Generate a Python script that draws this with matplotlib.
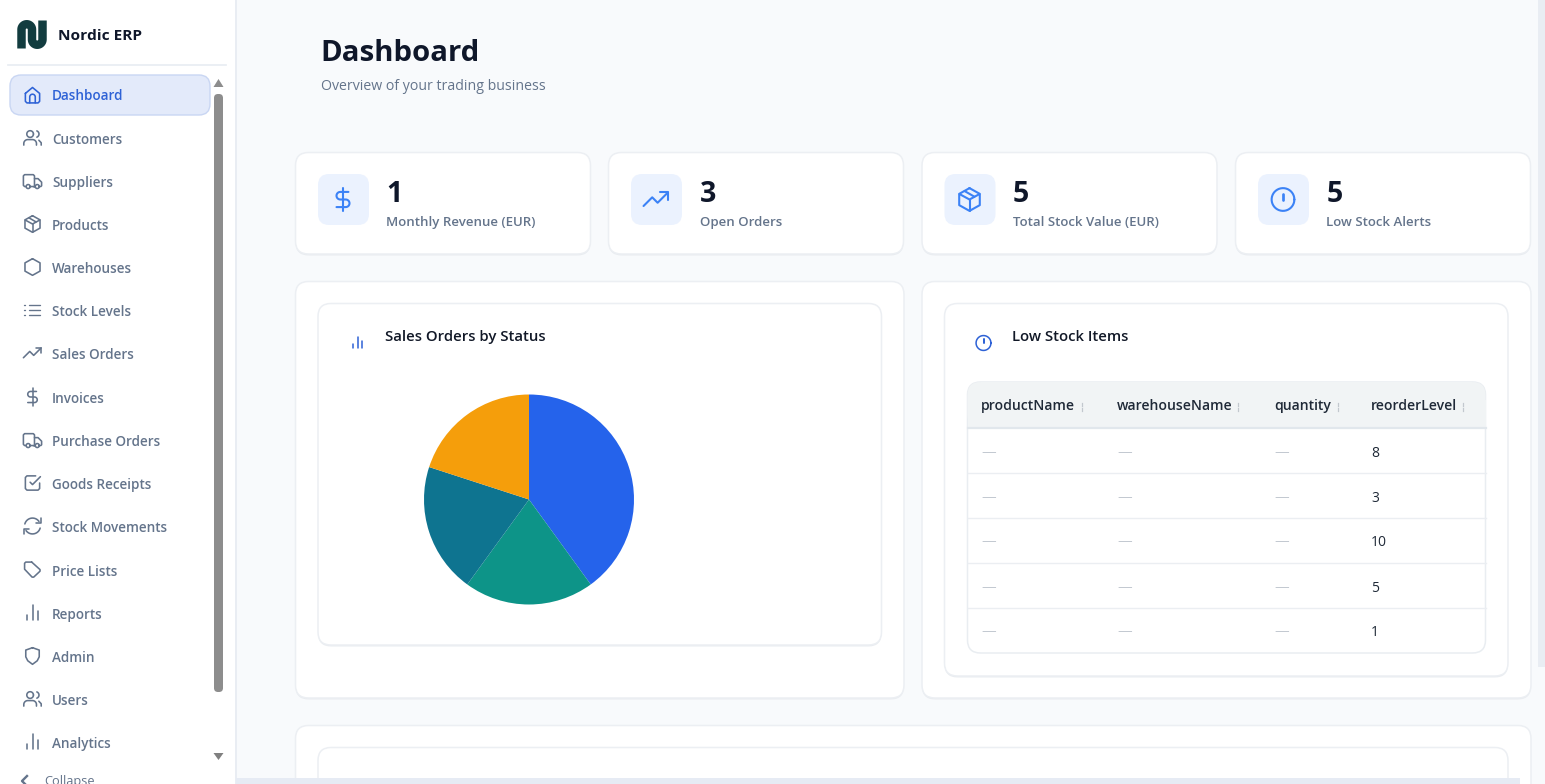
import numpy as np
import matplotlib
matplotlib.use("Agg")
import matplotlib.pyplot as plt
from matplotlib.patches import FancyBboxPatch, Rectangle, Polygon

plt.rcParams['font.family'] = ['Open Sans', 'DejaVu Sans']

# ---- data ----
nav_items = ["Dashboard", "Customers", "Suppliers", "Products", "Warehouses", "Stock Levels",
             "Sales Orders", "Invoices", "Purchase Orders", "Goods Receipts", "Stock Movements",
             "Price Lists", "Reports", "Admin", "Users", "Analytics"]
nav_y = [95, 139, 182, 225, 268, 311, 354, 398, 441, 484, 527, 571, 614, 657, 700, 743]
nav_icons = ["home", "users", "truck", "box", "hex", "list", "trend", "dollar", "truck", "check",
             "refresh", "tag", "bars", "shield", "users", "bars"]
kpi_values = ["1", "3", "5", "5"]
kpi_labels = ["Monthly Revenue (EUR)", "Open Orders", "Total Stock Value (EUR)", "Low Stock Alerts"]
kpi_icons = ["dollar", "trend", "box", "alert"]
kpi_x = [295, 608, 921.5, 1235]
status_values = [2, 1, 1, 1]
status_colors = ["#2563eb", "#0d9488", "#0e7490", "#f59e0b"]
table_columns = ["productName", "warehouseName", "quantity", "reorderLevel"]
column_x = [981, 1117, 1274, 1371]
sort_x = [1082, 1238, 1338, 1463]
reorder_levels = [8, 3, 10, 5, 1]
row_y = [452, 497, 542, 587, 632]

W, H = 1545, 784
fig = plt.figure(figsize=(W / 100, H / 100), dpi=100, facecolor="#f8fafc")
ax = fig.add_axes([0, 0, 1, 1])
ax.set_xlim(0, W)
ax.set_ylim(H, 0)
ax.axis("off")


def label(x, y, s, size, weight="normal", color="#0f172a", z=5):
    ax.text(x, y + 1, s, fontsize=size, fontweight=weight, color=color, va="center", zorder=z)


def card(x0, y0, x1, y1, r=12, fc="white", ec="#eceff3", lw=1.1, z=1, shadow=True):
    if shadow:
        ax.add_patch(FancyBboxPatch((x0, y0 + 1.5), x1 - x0, y1 - y0, boxstyle=f"round,pad=0,rounding_size={r}",
                                    fc="#e9ecf0", ec="none", zorder=z))
    ax.add_patch(FancyBboxPatch((x0, y0), x1 - x0, y1 - y0, boxstyle=f"round,pad=0,rounding_size={r}",
                                fc=fc, ec=ec, lw=lw, zorder=z))


def icon(name, cx, cy, s, color, lw=1.3, z=6):
    k = s / 24.0

    def P(pts, close=False, w=None):
        a = np.array(pts, float)
        if close:
            a = np.vstack([a, a[0]])
        ax.plot(cx + (a[:, 0] - 12) * k, cy + (a[:, 1] - 12) * k, color=color, lw=w or lw, zorder=z,
                solid_capstyle="round", solid_joinstyle="round")

    def A(x, y, r, t0=0, t1=360):
        t = np.radians(np.linspace(t0, t1, 40))
        P(np.c_[x + r * np.cos(t), y + r * np.sin(t)])

    def arc(x, y, r, t0, t1):
        t = np.radians(np.linspace(t0, t1, 16))
        return list(zip(x + r * np.cos(t), y + r * np.sin(t)))

    if name == "home":
        P([(3, 10), (12, 2.5), (21, 10), (21, 20), (19, 22), (5, 22), (3, 20)], True)
        P([(8.5, 22), (8.5, 15)] + arc(12, 14.5, 3.5, 180, 360) + [(15.5, 22)])
    elif name == "users":
        A(9, 7, 4.2)
        P([(1, 21), (1, 19)] + arc(6, 19, 5, 180, 270) + [(12, 14)] + arc(12, 19, 5, 270, 360) + [(17, 21)])
        A(16, 7, 4.2, -70, 70)
        P([(20, 14.8), (23, 18), (23, 21)])
    elif name == "truck":
        P([(4, 19), (2, 19), (0.5, 17.5), (0.5, 5.5), (2, 4), (13, 4), (14.5, 5.5), (14.5, 19), (9, 19)])
        P([(14.5, 9), (19, 9), (23.5, 13.5), (23.5, 18), (22.5, 19), (21, 19)])
        P([(15, 19), (13.5, 19)])
        A(6.5, 19, 2.5)
        A(18, 19, 2.5)
    elif name == "box":
        P([(12, 1.5), (21.5, 6.8), (21.5, 17.2), (12, 22.5), (2.5, 17.2), (2.5, 6.8)], True)
        P([(2.8, 7), (12, 12), (21.2, 7)])
        P([(12, 12), (12, 22.5)])
        P([(7.5, 4.2), (16.5, 9.4)])
    elif name == "hex":
        P([(12, 1.5), (21.5, 6.8), (21.5, 17.2), (12, 22.5), (2.5, 17.2), (2.5, 6.8)], True)
    elif name == "list":
        for y in (5.5, 12, 18.5):
            P([(7, y), (22, y)], w=lw * 0.85)
            P([(1.5, y), (2.2, y)], w=lw * 0.85)
    elif name == "trend":
        P([(0.5, 18), (8.5, 10), (13.5, 15), (23, 5.5)])
        P([(16, 5.5), (23, 5.5), (23, 12.5)])
    elif name == "dollar":
        P([(12, 1), (12, 23)])
        P([(17, 5)] + arc(9.5, 8.5, 3.5, -90, -270) + arc(14.5, 15.5, 3.5, -90, 90) + [(6, 19)])
    elif name == "check":
        P([(9, 11), (12, 14), (22, 4)])
        P([(21, 12), (21, 19), (19, 21), (5, 21), (3, 19), (3, 5), (5, 3), (16, 3)])
    elif name == "refresh":
        A(12, 12, 10, 195, 325)
        A(12, 12, 10, 15, 145)
        P([(22.5, 2), (22.5, 8), (16.5, 8)])
        P([(1.5, 22), (1.5, 16), (7.5, 16)])
    elif name == "tag":
        P([(11, 2), (3.5, 2), (2, 3.5), (2, 11), (11.5, 21), (13.5, 21), (21.5, 13.5), (21.5, 11.5)], True)
        P([(7, 7), (7.2, 7)], w=lw * 1.6)
    elif name == "bars":
        P([(12, 21), (12, 2)])
        P([(19, 21), (19, 9)])
        P([(5, 21), (5, 14)])
    elif name == "shield":
        P([(12, 1.5), (20.5, 4.5), (20.5, 13), (18, 18), (12, 22.5), (6, 18), (3.5, 13), (3.5, 4.5)], True)
    elif name == "alert":
        A(12, 12, 10.5)
        P([(12, 7), (12, 12.5)], w=lw * 1.3)
        P([(12, 15.8), (12, 16.6)], w=lw * 1.3)


# ---- sidebar ----
ax.add_patch(Rectangle((0, 0), 235, H, fc="white", ec="none", zorder=1))
ax.plot([235.5, 235.5], [0, H], color="#e6ebf2", lw=1.2, zorder=2)
ax.plot([8, 226], [64.5, 64.5], color="#e8ecf2", lw=1.2, zorder=2)

# logo
t = np.linspace(np.pi, 0, 30)
logo_x = np.r_[21.5, 26.75 + 5.25 * np.cos(t), 37.25 + 5.25 * np.cos(t), 42.5]
logo_y = np.r_[48.5, 29.5 - 5.25 * np.sin(t), 39.5 + 5.25 * np.sin(t), 20.5]
ax.plot(logo_x, logo_y, color="#123c3f", lw=6.1, solid_capstyle="butt", solid_joinstyle="round", zorder=3)
label(58, 35, "Nordic ERP", 11.1, "bold", "#0f172a")

ax.add_patch(FancyBboxPatch((10, 75), 200, 40, boxstyle="round,pad=0,rounding_size=11",
                            fc="#e3eafa", ec="#c9d6f3", lw=1.0, zorder=2))
for i, (name, y, ic) in enumerate(zip(nav_items, nav_y, nav_icons)):
    col = "#2e62d6" if i == 0 else "#64748b"
    label(52, y, name, 9.75, "semibold", col)
    icon(ic, 32.5, y - 1 if i else y, 19, col, lw=1.15)

# sidebar scrollbar
ax.add_patch(FancyBboxPatch((214, 94), 9, 598, boxstyle="round,pad=0,rounding_size=4",
                            fc="#8d8d8d", ec="none", zorder=3))
ax.add_patch(Polygon([(218.5, 79), (213.5, 87), (223.5, 87)], fc="#8d8d8d", ec="none", zorder=3))
ax.add_patch(Polygon([(218.5, 760), (213.5, 753), (223.5, 753)], fc="#808080", ec="none", zorder=3))
ax.plot([27, 22, 27], [776, 781, 786], color="#64748b", lw=1.7, zorder=4)
label(44, 781, "Collapse", 9.2, "normal", "#64748b")

# ---- heading ----
label(320.5, 52.5, "Dashboard", 21.2, "bold", "#0f172a")
label(321, 85, "Overview of your trading business", 10.15, "normal", "#64748b")

# ---- KPI cards ----
for x, v, lab, ic in zip(kpi_x, kpi_values, kpi_labels, kpi_icons):
    card(x + 0.5, 152.5, x + 295.5, 254, r=13)
    ax.add_patch(FancyBboxPatch((x + 23, 174), 51, 51, boxstyle="round,pad=0,rounding_size=11",
                                fc="#ebf2fe", ec="none", zorder=3))
    icon(ic, x + 48, 199.5, 26, "#3b82f6", lw=1.5)
    label(x + 91.5, 193, v, 20.5, "bold", "#0f172a")
    label(x + 91.5, 221, lab, 9.5, "semibold", "#64748b")

# ---- panels ----
card(295.5, 281.5, 904, 698, r=13)
card(922, 281.5, 1531, 698, r=13)
card(318, 303.5, 881.5, 645, r=13)
card(944.5, 303.5, 1508, 676, r=13)
card(295.5, 725.5, 1531, 800, r=13)
card(318, 747.5, 1508, 800, r=13)

icon("bars", 357.5, 343, 14, "#2e62d6", lw=1.1)
label(385, 336, "Sales Orders by Status", 10.7, "semibold", "#111827")
icon("alert", 983.5, 343, 17, "#2e62d6", lw=1.1)
label(1012, 336, "Low Stock Items", 10.7, "semibold", "#111827")

# ---- pie ----
pie_ax = fig.add_axes([(529 - 105) / W, 1 - (499.5 + 105) / H, 210 / W, 210 / H], zorder=5)
pie_ax.pie(status_values, colors=status_colors, startangle=90, counterclock=False, radius=1.0,
           wedgeprops={"linewidth": 0})
pie_ax.set_xlim(-1, 1)
pie_ax.set_ylim(-1, 1)

# ---- table ----
card(967.5, 382, 1485.5, 653, r=13, ec="#e9edf1", shadow=False, z=2)
ax.add_patch(FancyBboxPatch((967.5, 382), 518, 46, boxstyle="round,pad=0,rounding_size=13",
                            fc="#f1f4f5", ec="none", zorder=3))
ax.add_patch(Rectangle((967.5, 400), 518, 28, fc="#f1f4f5", ec="none", zorder=3))
ax.plot([967.5, 1485.5], [428, 428], color="#e1e7ec", lw=1.6, zorder=4)
for col, x, sx in zip(table_columns, column_x, sort_x):
    label(x, 405, col, 10.1, "semibold", "#1f2937")
    ax.plot([sx, sx], [403, 406], color="#c2c8ce", lw=0.9, zorder=5)
    ax.plot([sx, sx], [407.5, 410.5], color="#c2c8ce", lw=0.9, zorder=5)
for i, (y, lvl) in enumerate(zip(row_y, reorder_levels)):
    for x in column_x[:3]:
        label(x, y - 1, "—", 10.5, "normal", "#c3c9d1")
    label(column_x[3], y, str(lvl), 10, "normal", "#1f2937")
    if i < 4:
        ax.plot([967.5, 1485.5], [y + 21, y + 21], color="#ebeef2", lw=1.0, zorder=4)

# ---- window scrollbars ----
ax.add_patch(Rectangle((236, 778), 1284, 6, fc="#e6ebf4", ec="none", zorder=7))
ax.add_patch(Rectangle((1538, 0), 7, 667, fc="#e9edf3", ec="none", zorder=7))

fig.savefig("out.png", dpi=100, facecolor=fig.get_facecolor())
